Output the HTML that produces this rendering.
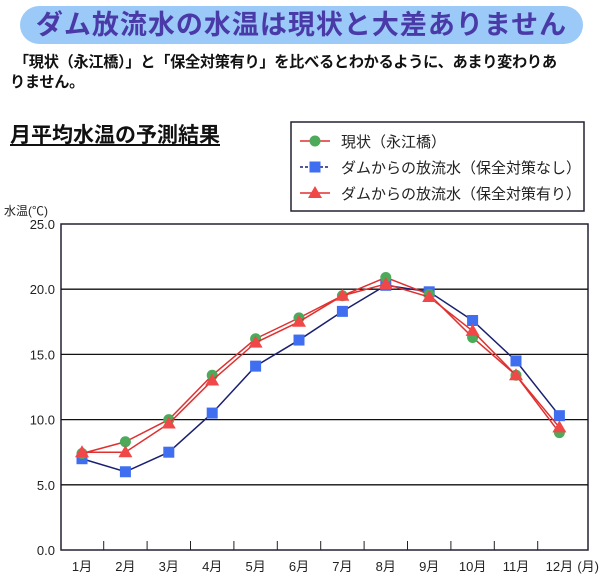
<!DOCTYPE html>
<html><head><meta charset="utf-8">
<style>
body{margin:0;width:600px;height:577px;background:#fff;overflow:hidden;font-family:"Liberation Sans","Noto Sans CJK JP",sans-serif;}
#title{position:absolute;left:20px;top:6px;width:563px;height:38px;background:#9ccaf8;border-radius:19px;color:#4a3aa8;font-weight:bold;font-size:27px;line-height:38px;text-align:center;letter-spacing:1px}
#desc{position:absolute;left:10px;top:53px;width:572px;font-size:15.2px;font-weight:bold;line-height:20px;color:#111;letter-spacing:-0.3px}
#sub{position:absolute;left:10px;top:119px;font-size:21px;font-weight:bold;text-decoration:underline;color:#111}
</style></head><body>
<div id="title">ダム放流水の水温は現状と大差ありません</div>
<div id="desc">&nbsp;「現状（永江橋）」と「保全対策有り」を比べるとわかるように、あまり変わりあ<br>りません。</div>
<div id="sub">月平均水温の予測結果</div>
<svg id="chart" width="600" height="577" style="position:absolute;left:0;top:0"></svg>
<script>
const categories=["1月","2月","3月","4月","5月","6月","7月","8月","9月","10月","11月","12月"];
const seriesCurrent=[7.4,8.3,10.0,13.4,16.2,17.8,19.5,20.9,19.6,16.3,13.4,9.0];
const seriesNoMeasure=[7.0,6.0,7.5,10.5,14.1,16.1,18.3,20.3,19.8,17.6,14.5,10.3];
const seriesMeasure=[7.5,7.5,9.7,13.0,15.9,17.5,19.5,20.4,19.4,16.8,13.4,9.4];
const yTicks=["0.0","5.0","10.0","15.0","20.0","25.0"];
const NS="http://www.w3.org/2000/svg";
const svg=document.getElementById('chart');
const L=61,R=588,T=224,B=550,yMax=25;
const x0=82,step=43.4;
const xs=i=>x0+i*step;
const ys=v=>B-(v/yMax)*(B-T);
function mk(t,a){const e=document.createElementNS(NS,t);for(const k in a)e.setAttribute(k,a[k]);svg.appendChild(e);return e;}
let e=mk('rect',{x:L,y:T,width:R-L,height:B-T,fill:'none',stroke:'#223',"stroke-width":1.5});


yTicks.forEach(t=>{const v=parseFloat(t);const y=ys(v);
 if(v>0&&v<yMax){const g=mk('line',{x1:L,x2:R,y1:y,y2:y,stroke:'#111',"stroke-width":1.3});
 
 }
 const tx=mk('text',{x:55,y:y+5,"text-anchor":"end","font-size":13,fill:'#222'});tx.textContent=t;
 
 
});
categories.forEach((c,i)=>{
 if(i<categories.length-1){const tk=mk('line',{x1:xs(i)+step/2,x2:xs(i)+step/2,y1:B,y2:B-9,stroke:'#222'});
 
 }
 const tx=mk('text',{x:xs(i),y:571,"text-anchor":"middle","font-size":13,fill:'#222'});tx.textContent=c;
 
 
});
let u=mk('text',{x:599,y:571,"text-anchor":"end","font-size":13,fill:'#222'});u.textContent="(月)";


let yl=mk('text',{x:4,y:215,"font-size":12,fill:'#222'});yl.textContent="水温(℃)";


function marker(type,x,y,col){let m;
 if(type==='c')m=mk('circle',{cx:x,cy:y,r:5.5,fill:col});
 else if(type==='s')m=mk('rect',{x:x-5.5,y:y-5.5,width:11,height:11,fill:col});
 else m=mk('polygon',{points:`${x},${y-7} ${x-7},${y+5} ${x+7},${y+5}`,fill:col});
 return m;}
function series(data,line,col,type,name){
 const p=mk('polyline',{points:data.map((v,i)=>xs(i)+','+ys(v)).join(' '),fill:'none',stroke:line,"stroke-width":1.5});
 
 
 data.forEach((v,i)=>{const m=marker(type,xs(i),ys(v),col);
 
 });
}
series(seriesNoMeasure,'#1a2070','#3f6ef0','s','no-measure');
series(seriesCurrent,'#e03030','#4caa5a','c','current');
series(seriesMeasure,'#e03030','#f04848','t','measure');
let lg=mk('rect',{x:291,y:122,width:293,height:89,fill:'#fff',stroke:'#223',"stroke-width":1.5});


const legendItems=[["現状（永江橋）",'#e03030','#4caa5a','c'],["ダムからの放流水（保全対策なし）",'#1a2070','#3f6ef0','s'],["ダムからの放流水（保全対策有り）",'#e03030','#f04848','t']];
legendItems.forEach((it,i)=>{const y=141+i*26;
 const ln=mk('line',{x1:300,x2:330,y1:y,y2:y,stroke:it[1],"stroke-width":1.5,"stroke-dasharray":it[3]==='s'?'3,2':''});
 
 
 const m=marker(it[3],315,y,it[2]);
 
 
 const t=mk('text',{x:341,y:y+6,"font-size":15,fill:'#222'});t.textContent=it[0];
 
 
});
</script>
</body></html>
